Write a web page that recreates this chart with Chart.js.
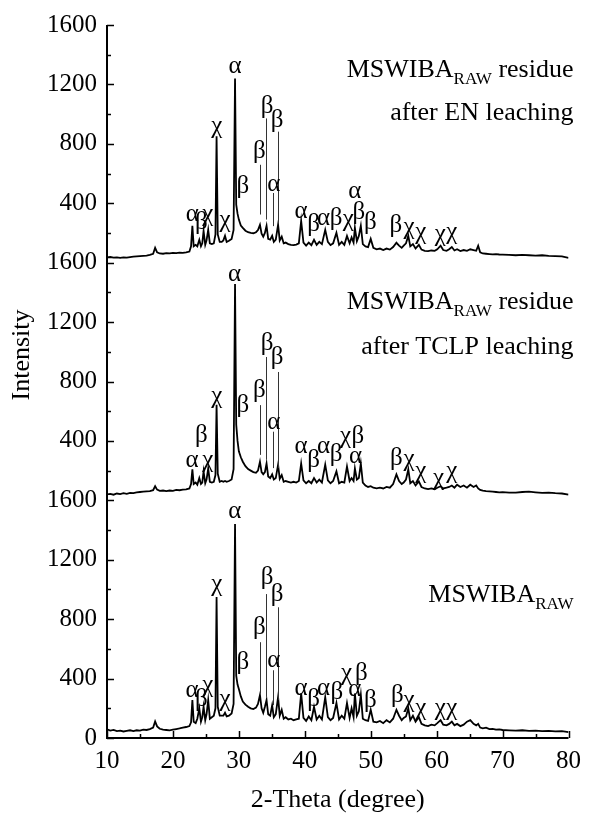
<!DOCTYPE html>
<html>
<head>
<meta charset="utf-8">
<script src="https://cdn.jsdelivr.net/npm/chart.js@4.4.1/dist/chart.umd.min.js"></script>
<style>
  html, body { margin: 0; padding: 0; background: #fff; }
  #wrap { width: 589px; height: 821px; position: relative; }
</style>
</head>
<body>
<div id="wrap"><canvas id="xrd"></canvas></div>
<script>
// 2-theta grid shared by the three patterns
const twoTheta = [
  10, 10.5, 11, 11.5, 12, 12.5, 13, 13.5, 14, 14.5,
  15, 15.5, 16, 16.5, 17.0, 17.3, 17.6, 18.0, 18.5, 19,
  19.5, 20, 20.5, 21, 21.5, 22, 22.5, 22.75, 22.95, 23.15,
  23.45, 23.7, 24.0, 24.25, 24.45, 24.65, 24.9, 25.1, 25.35, 25.6,
  25.9, 26.2, 26.45, 26.62, 26.8, 27.1, 27.4, 27.65, 27.9, 28.15,
  28.5, 28.9, 29.2, 29.42, 29.6, 29.8, 30.0, 30.3, 30.6, 31.0,
  31.4, 31.8, 32.2, 32.6, 32.9, 33.2, 33.45, 33.7, 33.95, 34.2,
  34.45, 34.75, 35.05, 35.3, 35.6, 35.95, 36.2, 36.5, 36.8, 37.1,
  37.5, 37.9, 38.3, 38.7, 39.1, 39.45, 39.8, 40.2, 40.6, 41.0,
  41.4, 41.8, 42.2, 42.6, 43.1, 43.5, 43.9, 44.3, 44.8, 45.2,
  45.6, 46.0, 46.4, 46.8, 47.1, 47.4, 47.6, 47.9, 48.2, 48.5,
  48.8, 49.2, 49.6, 50.0, 50.4, 50.9, 51.4, 51.9, 52.4, 52.9,
  53.4, 53.9, 54.3, 54.7, 55.0, 55.35, 55.7, 56.0, 56.4, 56.8,
  57.3, 57.7, 58.2, 58.7, 59.2, 59.7, 60.1, 60.6, 61.0, 61.5,
  61.9, 62.3, 62.7, 63.1, 63.6, 64.1, 64.6, 65.1, 65.6, 66.0,
  66.3, 66.6, 67.0, 67.5, 68, 68.5, 69, 69.5, 70, 71,
  72, 73, 74, 75, 76, 77, 78, 79, 80
];

// MSWIBA_RAW (bottom)
const rawIntensity = [
  58, 50, 54, 46, 50, 44, 48, 52, 46, 52,
  50, 56, 54, 60, 70, 112, 78, 62, 56, 54,
  52, 56, 60, 64, 70, 74, 80, 105, 255, 110,
  100, 130, 200, 110, 140, 210, 120, 160, 255, 130,
  140, 150, 200, 950, 210, 150, 150, 150, 170, 145,
  150, 165, 230, 1440, 420, 360, 330, 280, 245, 225,
  210, 200, 195, 205, 230, 290, 200, 170, 210, 255,
  160, 150, 220, 140, 160, 275, 150, 190, 130, 140,
  125, 130, 120, 125, 130, 300, 135, 115, 145, 120,
  210, 125, 150, 125, 275, 140, 120, 135, 235, 125,
  150, 130, 235, 135, 200, 140, 300, 150, 180, 290,
  130, 120, 115, 190, 110, 105, 115, 100, 120, 105,
  130, 190, 150, 120, 135, 145, 200, 120, 150, 110,
  140, 95, 85, 80, 90, 85, 100, 120, 90, 85,
  95, 110, 85, 95, 80, 90, 110, 120, 95, 85,
  95, 70, 65, 70, 60, 62, 56, 58, 54, 52,
  50, 52, 48, 50, 46, 48, 44, 46, 40
];

// residue after TCLP leaching (middle)
const tclpIntensity = [
  40, 44, 38, 46, 42, 48, 44, 50, 48, 54,
  56, 58, 60, 62, 68, 95, 72, 64, 66, 62,
  66, 64, 70, 68, 72, 74, 80, 110, 208, 110,
  120, 105, 150, 110, 120, 195, 115, 140, 215, 125,
  120, 125, 170, 643, 180, 125, 130, 125, 130, 125,
  130, 140, 210, 1456, 510, 400, 330, 290, 260, 230,
  210, 200, 190, 185, 200, 260, 190, 175, 190, 248,
  160, 150, 175, 140, 150, 240, 145, 170, 125, 130,
  125, 120, 125, 120, 130, 248, 135, 115, 130, 115,
  150, 120, 140, 120, 240, 135, 115, 130, 195, 115,
  125, 120, 228, 130, 150, 130, 215, 140, 150, 248,
  120, 100, 90, 95, 85, 80, 85, 80, 90, 85,
  110, 175, 130, 110, 120, 140, 208, 115, 130, 100,
  127, 90, 80, 75, 80, 75, 85, 95, 80, 85,
  90, 100, 85, 105, 90, 100, 85, 105, 90, 100,
  80, 70, 65, 62, 60, 58, 56, 54, 55, 52,
  52, 56, 58, 54, 50, 52, 48, 46, 38
];

// residue after EN leaching (top)
const enIntensity = [
  35, 38, 34, 36, 32, 36, 34, 38, 40, 42,
  44, 46, 48, 52, 60, 100, 70, 62, 60, 64,
  62, 66, 64, 68, 66, 70, 75, 110, 248, 110,
  120, 110, 154, 110, 130, 214, 120, 150, 221, 130,
  125, 130, 190, 851, 190, 140, 140, 150, 181, 140,
  147, 160, 220, 1240, 390, 330, 290, 250, 234, 215,
  205, 200, 198, 205, 220, 255, 195, 175, 200, 248,
  160, 155, 181, 140, 155, 255, 150, 175, 130, 135,
  125, 120, 118, 122, 130, 281, 135, 115, 135, 118,
  154, 120, 140, 125, 221, 140, 118, 130, 201, 120,
  140, 120, 180, 130, 170, 135, 234, 145, 180, 248,
  125, 110, 105, 160, 100, 90, 95, 85, 95, 88,
  105, 134, 115, 100, 115, 130, 181, 110, 125, 95,
  120, 88, 80, 78, 82, 80, 90, 114, 85, 80,
  90, 105, 82, 90, 78, 85, 80, 90, 85, 80,
  114, 70, 62, 60, 58, 56, 57, 55, 54, 52,
  50, 52, 50, 48, 50, 46, 44, 42, 33
];

// vertical stacking of the three patterns
const offsets = [0, 1600, 3200];

// y tick values and their printed labels (the scale restarts for each pattern)
const yTickValues = [0, 400, 800, 1200, 1600, 2000, 2400, 2800, 3200, 3600, 4000, 4400, 4800];
const yTickLabels = ['0', '400', '800', '1200', '1600', '400', '800', '1200', '1600', '400', '800', '1200', '1600'];

// phase marks [2theta, intensity, symbol]
const rawMarks = [
  [22.9, 322, 'α'], [24.3, 259, 'β'], [25.3, 355, 'χ'], [26.65, 1036, 'χ'], [27.9, 259, 'χ'],
  [29.4, 1528, 'α'], [30.6, 511, 'β'], [33.1, 746, 'β'], [34.3, 1081, 'β'], [35.8, 969, 'β'],
  [35.3, 523, 'α'], [39.45, 333, 'α'], [41.35, 259, 'β'], [42.85, 333, 'α'], [44.85, 304, 'β'],
  [46.35, 433, 'χ'], [48.6, 433, 'β'], [47.6, 326, 'α'], [49.95, 255, 'β'], [54.05, 288, 'β'],
  [55.8, 255, 'χ'], [57.6, 199, 'χ'], [60.55, 199, 'χ'], [62.3, 199, 'χ']
];
const tclpMarks = [
  [22.9, 266, 'α'], [24.3, 440, 'β'], [25.3, 266, 'χ'], [26.65, 697, 'χ'],
  [29.35, 1523, 'α'], [30.6, 637, 'β'], [33.1, 741, 'β'], [34.3, 1054, 'β'], [35.8, 965, 'β'],
  [35.3, 525, 'α'], [39.45, 362, 'α'], [41.35, 266, 'β'], [42.85, 362, 'α'], [44.75, 310, 'β'],
  [46.2, 429, 'χ'], [48.05, 429, 'β'], [47.7, 295, 'α'], [53.9, 284, 'β'],
  [55.8, 272, 'χ'], [57.6, 194, 'χ'], [60.3, 150, 'χ'], [62.3, 194, 'χ']
];
const enMarks = [
  [22.95, 324, 'α'], [24.3, 268, 'β'], [25.3, 324, 'χ'], [26.65, 917, 'χ'], [27.9, 281, 'χ'],
  [29.42, 1320, 'α'], [30.6, 516, 'β'], [33.1, 750, 'β'], [34.3, 1050, 'β'], [35.8, 960, 'β'],
  [35.3, 525, 'α'], [39.45, 348, 'α'], [41.35, 257, 'β'], [42.85, 295, 'α'], [44.75, 295, 'β'],
  [46.6, 290, 'χ'], [47.6, 482, 'α'], [48.2, 335, 'β'], [49.95, 268, 'β'], [53.8, 248, 'β'],
  [55.8, 234, 'χ'], [57.6, 201, 'χ'], [60.55, 190, 'χ'], [62.3, 201, 'χ']
];

// marker lines [2theta, from, to]
const rawLines = [[33.27, 299, 645], [34.17, 277, 969], [35.13, 221, 456], [35.98, 255, 880]];
const tclpLines = [[33.27, 306, 641], [34.17, 275, 965], [35.13, 217, 462], [35.98, 217, 864]];
const enLines = [[33.27, 324, 659], [34.17, 290, 971], [35.13, 246, 469], [35.98, 268, 882]];

// sample captions: [main, subscript, tail, intensity of the line]
const captions = [
  [['MSWIBA', 'RAW', '', 978]],
  [['MSWIBA', 'RAW', ' residue', 1348], ['after TCLP leaching', '', '', 1047]],
  [['MSWIBA', 'RAW', ' residue', 1309], ['after EN leaching', '', '', 1021]]
];

const series = [rawIntensity, tclpIntensity, enIntensity];
const marks = [rawMarks, tclpMarks, enMarks];
const lines = [rawLines, tclpLines, enLines];

const FONT = '"Liberation Serif", "Times New Roman", serif';

const overlay = {
  id: 'overlay',
  afterDatasetsDraw(chart) {
    const { ctx, chartArea: a, scales: { x, y } } = chart;
    ctx.save();

    // axis lines
    ctx.strokeStyle = '#000';
    ctx.lineWidth = 2;
    ctx.beginPath();
    ctx.moveTo(a.left, a.top);
    ctx.lineTo(a.left, a.bottom);
    ctx.lineTo(a.right, a.bottom);
    ctx.stroke();

    // inward ticks, major + minor
    ctx.lineWidth = 1.5;
    ctx.beginPath();
    for (let v = 0; v <= 4800; v += 200) {
      const py = Math.round(y.getPixelForValue(v)) + 0.5;
      const len = v % 400 === 0 ? 7 : 4;
      ctx.moveTo(a.left, py);
      ctx.lineTo(a.left + len, py);
    }
    for (let v = 10; v <= 80; v += 5) {
      const px = Math.round(x.getPixelForValue(v)) + 0.5;
      const len = v % 10 === 0 ? 7 : 4;
      ctx.moveTo(px, a.bottom);
      ctx.lineTo(px, a.bottom - len);
    }
    ctx.stroke();

    // marker lines
    ctx.strokeStyle = '#333';
    ctx.lineWidth = 1;
    lines.forEach((set, i) => {
      set.forEach(([lx, y0, y1]) => {
        const px = Math.round(x.getPixelForValue(lx)) + 0.5;
        ctx.beginPath();
        ctx.moveTo(px, y.getPixelForValue(y0 + offsets[i]));
        ctx.lineTo(px, y.getPixelForValue(y1 + offsets[i]));
        ctx.stroke();
      });
    });

    // phase symbols
    ctx.fillStyle = '#000';
    ctx.font = '25px ' + FONT;
    ctx.textAlign = 'center';
    ctx.textBaseline = 'middle';
    marks.forEach((set, i) => {
      set.forEach(([mx, my, s]) => {
        ctx.fillText(s, x.getPixelForValue(mx), y.getPixelForValue(my + offsets[i]));
      });
    });

    // captions, right aligned
    ctx.textAlign = 'left';
    ctx.textBaseline = 'alphabetic';
    const big = '26px ' + FONT, small = '17px ' + FONT;
    const right = a.right + 5;
    captions.forEach((rows, i) => {
      rows.forEach(([main, sub, tail, cy]) => {
        ctx.font = big;
        const w1 = ctx.measureText(main).width;
        const w3 = ctx.measureText(tail).width;
        ctx.font = small;
        const w2 = sub ? ctx.measureText(sub).width : 0;
        let px = right - (w1 + w2 + w3);
        const base = y.getPixelForValue(cy + offsets[i]) + 9;
        ctx.font = big;
        ctx.fillText(main, px, base);
        px += w1;
        if (sub) {
          ctx.font = small;
          ctx.fillText(sub, px, base + 7);
          px += w2;
        }
        ctx.font = big;
        ctx.fillText(tail, px, base);
      });
    });

    // axis titles
    ctx.font = '26px ' + FONT;
    ctx.textAlign = 'center';
    ctx.textBaseline = 'middle';
    ctx.fillText('2-Theta (degree)', (a.left + a.right) / 2, 800);
    ctx.translate(22, 355);
    ctx.rotate(-Math.PI / 2);
    ctx.fillText('Intensity', 0, 0);

    ctx.restore();
  }
};

new Chart(document.getElementById('xrd'), {
  type: 'line',
  data: {
    datasets: series.map((arr, i) => ({
      data: arr.map((v, k) => ({ x: twoTheta[k], y: v + offsets[i] })),
      borderColor: '#000',
      borderWidth: 1.8,
      pointRadius: 0,
      tension: 0,
      fill: false
    }))
  },
  options: {
    responsive: true,
    maintainAspectRatio: false,
    animation: false,
    devicePixelRatio: 1,
    layout: { padding: { left: 0, right: 14, top: 22, bottom: 0 } },
    plugins: { legend: { display: false }, tooltip: { enabled: false } },
    scales: {
      x: {
        type: 'linear',
        min: 10,
        max: 80,
        afterFit: s => { s.height = 83; },
        grid: { display: false, drawTicks: false },
        border: { display: false },
        ticks: {
          stepSize: 10,
          padding: 8,
          color: '#000',
          font: { family: FONT, size: 25 },
          maxRotation: 0
        }
      },
      y: {
        type: 'linear',
        min: 0,
        max: 4800,
        afterFit: s => { s.width = 107; },
        afterBuildTicks: s => { s.ticks = yTickValues.map(v => ({ value: v })); },
        grid: { display: false, drawTicks: false },
        border: { display: false },
        ticks: {
          padding: 10,
          color: '#000',
          font: { family: FONT, size: 25 },
          callback: (v, i) => yTickLabels[i]
        }
      }
    }
  },
  plugins: [overlay]
});
</script>
</body>
</html>
